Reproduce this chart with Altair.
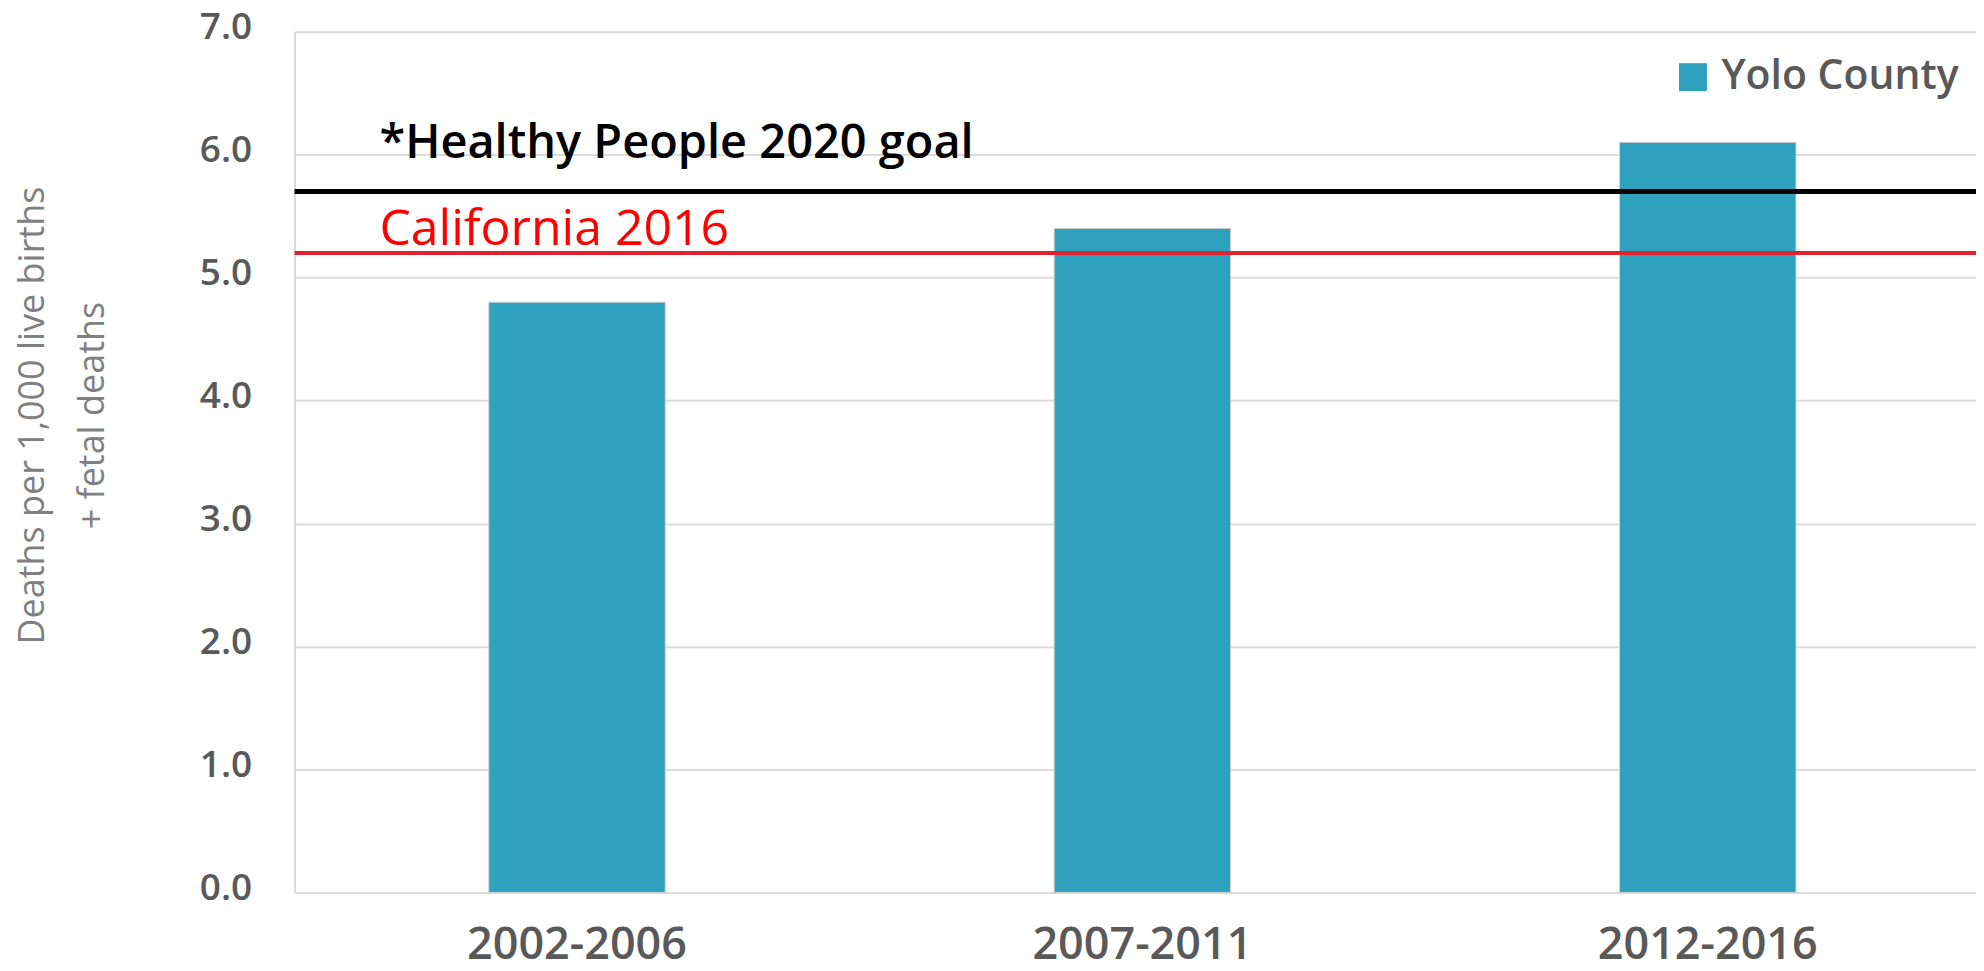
import altair as alt
import pandas as pd

# ---- data ----
periods = ["2002-2006", "2007-2011", "2012-2016"]
yolo_rate = [4.8, 5.4, 6.1]
series_name = ["Yolo County", "Yolo County", "Yolo County"]

ref_labels = ["*Healthy People 2020 goal", "California 2016"]
ref_values = [5.7, 5.2]
y_ticks = [0, 1, 2, 3, 4, 5, 6, 7]

bars_df = pd.DataFrame({"period": periods, "rate": yolo_rate, "series": series_name})
hp_df = pd.DataFrame({"label": [ref_labels[0]], "value": [ref_values[0]]})
ca_df = pd.DataFrame({"label": [ref_labels[1]], "value": [ref_values[1]]})

FONT = "Open Sans"
BAR = "#2ea1bf"

y_scale = alt.Scale(domain=[0, 7], nice=False)

bars = alt.Chart(bars_df).mark_bar(stroke="#cfcfcf", strokeWidth=1).encode(
    x=alt.X(
        "period:N",
        sort=periods,
        scale=alt.Scale(paddingInner=0.688, paddingOuter=0.331, align=0.519),
        axis=alt.Axis(
            title=None, labelAngle=0, labelFont=FONT, labelFontSize=45,
            labelFontWeight=600, labelColor="#595959", labelPadding=30,
            labelLimit=0, ticks=False, domain=False, grid=False,
            labelBaseline="top",
        ),
    ),
    y=alt.Y(
        "rate:Q",
        scale=y_scale,
        axis=alt.Axis(
            values=y_ticks, format=".1f",
            title=["Deaths per 1,000 live births", "+ fetal deaths"],
            titleFont=FONT, titleFontSize=36, titleFontWeight="normal",
            titleColor="#808080", titleAngle=270, titleX=-262, titleY=384,
            titleAlign="center", titleBaseline="middle", titleLineHeight=60,
            labelFont=FONT, labelFontSize=37, labelFontWeight=600,
            labelColor="#595959", labelPadding=43, labelOffset=-4,
            ticks=False, domain=True, domainColor="#d9d9d9", domainWidth=2,
            grid=True, gridColor="#dcdcdc", gridWidth=2,
        ),
    ),
    color=alt.Color(
        "series:N",
        scale=alt.Scale(domain=["Yolo County"], range=[BAR]),
        legend=alt.Legend(
            title=None, orient="none", legendX=1380, legendY=25,
            symbolType="square", symbolSize=784, symbolStrokeWidth=0,
            labelFont=FONT, labelFontSize=41, labelFontWeight=600,
            labelColor="#595959", labelOffset=8, labelLimit=0, padding=0,
        ),
    ),
)

hp_rule = alt.Chart(hp_df).mark_rule(color="#000000", strokeWidth=5).encode(
    y=alt.Y("value:Q", scale=y_scale)
)
ca_rule = alt.Chart(ca_df).mark_rule(color="#e0222f", strokeWidth=4).encode(
    y=alt.Y("value:Q", scale=y_scale)
)

hp_text = alt.Chart(hp_df).mark_text(
    align="left", baseline="alphabetic", dy=-34, font=FONT, fontSize=47,
    fontWeight=600, color="#000000",
).encode(x=alt.value(85), y=alt.Y("value:Q", scale=y_scale), text="label:N")

ca_text = alt.Chart(ca_df).mark_text(
    align="left", baseline="alphabetic", dy=-8, font=FONT, fontSize=50,
    fontWeight=500, color="#ff0000",
).encode(x=alt.value(85), y=alt.Y("value:Q", scale=y_scale), text="label:N")

chart = alt.layer(bars, hp_rule, ca_rule, hp_text, ca_text).properties(
    width=1684,
    height=862,
    autosize=alt.AutoSizeParams(type="none"),
    padding={"left": 287, "top": 23, "right": 0, "bottom": 86},
).configure_view(stroke=None).configure(background="white")

chart.save("out.html", embed_options={"renderer": "svg", "actions": False})
